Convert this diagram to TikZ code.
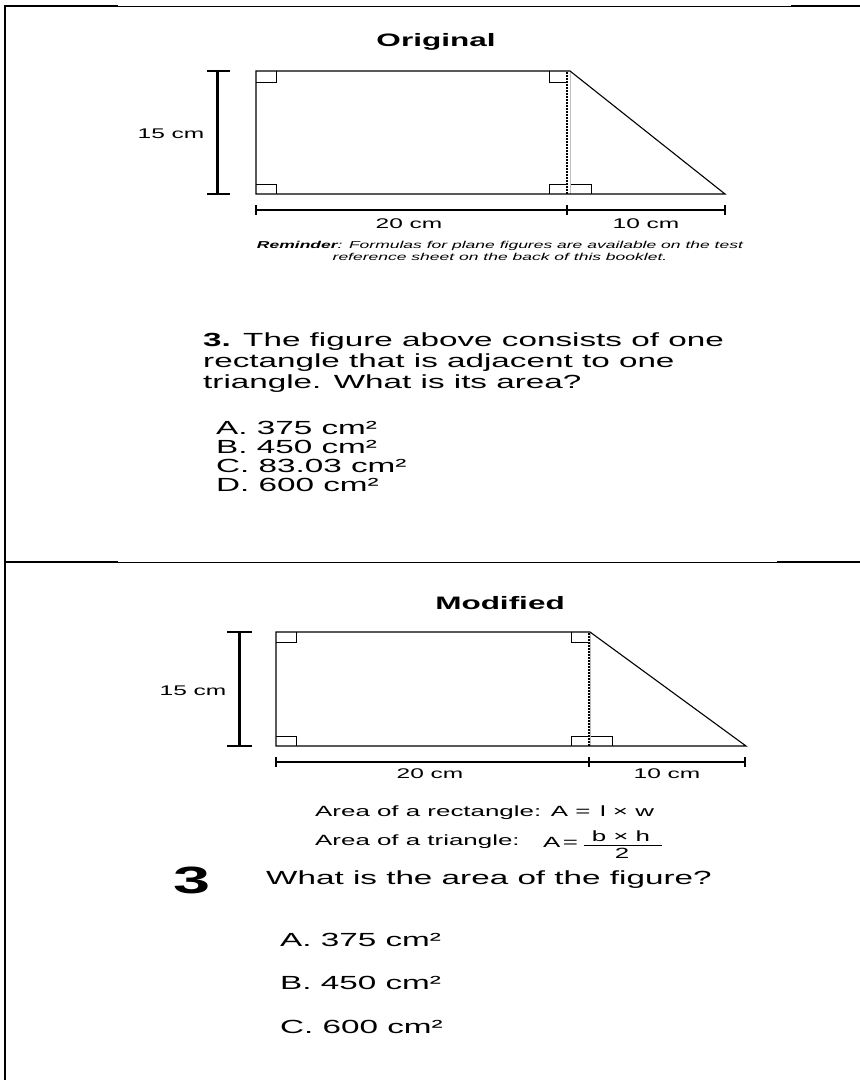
\documentclass[tikz,border=0pt]{standalone}
\usepackage{fontspec}
\setmainfont{Liberation Sans}
\newfontfamily\wf[FakeStretch=1.75]{Liberation Sans}
\begin{document}
\begin{tikzpicture}[x=1pt,y=-1pt,
  fig/.style={line width=1.1pt,line join=miter},
  rmark/.style={line width=0.9pt},
  bar/.style={line width=3pt},
  dimline/.style={line width=2pt},
  title/.style={font=\wf\fontsize{18}{20}\selectfont\bfseries,inner sep=0pt},
  lbl/.style={font=\wf\fontsize{14}{16}\selectfont,inner sep=0pt},
  qtext/.style={font=\wf\fontsize{19}{21}\selectfont,inner sep=0pt,align=left},
  ans/.style={font=\wf\fontsize{19}{19}\selectfont,inner sep=0pt,anchor=west},
  smalltxt/.style={font=\wf\fontsize{10}{12}\selectfont\itshape,inner sep=0pt,align=center},
  form/.style={font=\wf\fontsize{14.8}{16}\selectfont,inner sep=0pt,anchor=west},
  dotline/.style={line width=1.5pt,dash pattern=on 1.5pt off 1.5pt}]
\useasboundingbox (0,0) rectangle (860,1080);
% frame
\draw[line width=1.2pt] (5,5) -- (5,1080);
\draw[line width=2.5pt] (4,6) -- (118,6);
\draw[line width=0.9pt] (118,6) -- (791,6);
\draw[line width=2.5pt] (791,6) -- (860,6);
\draw[line width=2.5pt] (4,562) -- (118,562);
\draw[line width=0.9pt] (118,562) -- (777,562);
\draw[line width=2.5pt] (777,562) -- (860,562);

% ===== Original =====
\node[title] (t1) at (436,42) {Original};
\coordinate (oTL) at (256,71);
\coordinate (oTR) at (570,71);
\coordinate (oBR) at (570,194);
\coordinate (oBL) at (256,194);
\coordinate (oA) at (725,194);
\draw[gray!50,line width=0.6pt] (oTR) -- (oBR);
\draw[dotline] (567,72) -- (567,194);
\draw[fig] (oBL) -- (oTL) -- (oTR) -- (oA) -- cycle;
\draw[rmark] (256,82) -- (276,82) -- (276,71);
\draw[rmark] (256,184) -- (276,184) -- (276,194);
\draw[rmark] (567,82) -- (549,82) -- (549,71);
\draw[rmark] (567,184) -- (549,184) -- (549,194);
\draw[rmark] (571,184) -- (591,184) -- (591,194);
% height bar
\coordinate (ohT) at (217,71);
\coordinate (ohB) at (217,194);
\draw[bar] (ohT) -- (ohB);
\draw[line width=2.5pt] (207,71) -- (230,71);
\draw[line width=2.5pt] (207,194) -- (230,194);
\node[lbl] (o15) at (171,134) {15 cm};
% base dimension
\coordinate (od1) at (256,210);
\coordinate (od2) at (567,210);
\coordinate (od3) at (725,210);
\draw[dimline] (od1) -- (od3);
\foreach \x in {256,567,725} \draw[line width=2.5pt] (\x,205) -- (\x,215);
\node[lbl] (o20) at (409,224) {20 cm};
\node[lbl] (o10) at (646,224) {10 cm};
\node[smalltxt] (rem) at (500,251) {\textbf{Reminder}: Formulas for plane figures are available on the test\\reference sheet on the back of this booklet.};
\node[qtext,anchor=north west] (q1) at (203,333) {\textbf{3.} The figure above consists of one\\rectangle that is adjacent to one\\triangle. What is its area?};
\node[ans] (oa) at (216,428) {A. 375 cm²};
\node[ans] (ob) at (216,447) {B. 450 cm²};
\node[ans] (oc) at (216,466) {C. 83.03 cm²};
\node[ans] (od) at (216,485) {D. 600 cm²};

% ===== Modified =====
\node[title] (t2) at (500,603) {Modified};
\coordinate (mTL) at (276,632);
\coordinate (mTR) at (590,632);
\coordinate (mBR) at (590,746);
\coordinate (mBL) at (276,746);
\coordinate (mA) at (746,746);
\draw[gray!50,line width=0.6pt] (mTR) -- (mBR);
\draw[dotline] (589,633) -- (589,746);
\draw[fig] (mBL) -- (mTL) -- (mTR) -- (mA) -- cycle;
\draw[rmark] (276,642) -- (296,642) -- (296,632);
\draw[rmark] (276,736) -- (296,736) -- (296,746);
\draw[rmark] (589,642) -- (571,642) -- (571,632);
\draw[rmark] (589,736) -- (571,736) -- (571,746);
\draw[rmark] (591,736) -- (612,736) -- (612,746);
\coordinate (mhT) at (239,632);
\coordinate (mhB) at (239,746);
\draw[bar] (mhT) -- (mhB);
\draw[line width=2.5pt] (227,632) -- (252,632);
\draw[line width=2.5pt] (227,746) -- (252,746);
\node[lbl] (m15) at (193,691) {15 cm};
\coordinate (md1) at (276,762);
\coordinate (md3) at (745,762);
\draw[dimline] (md1) -- (md3);
\foreach \x in {276,589,745} \draw[line width=2.5pt] (\x,757) -- (\x,767);
\node[lbl] (m20) at (430,774) {20 cm};
\node[lbl] (m10) at (667,774) {10 cm};
\node[form] (f1) at (315,813) {Area of a rectangle: A =\, l × w};
\node[form] (f2) at (315,842) {Area of a triangle:};
\node[form] (f3) at (543,842) {A\,=};
\node[form,anchor=center] (f4) at (621,836) {b × h};
\node[form,anchor=center] (f5) at (622,853) {2};
\draw[line width=0.7pt] (584,845) -- (662,845);
\node[font=\wf\fontsize{38}{40}\selectfont\bfseries,inner sep=0pt] (n3) at (192,880) {3};
\node[qtext,anchor=west] (q2) at (266,880) {What is the area of the figure?};
\node[ans] (ma) at (280,940) {A. 375 cm²};
\node[ans] (mb) at (280,983) {B. 450 cm²};
\node[ans] (mc) at (280,1027) {C. 600 cm²};
\end{tikzpicture}
\end{document}
